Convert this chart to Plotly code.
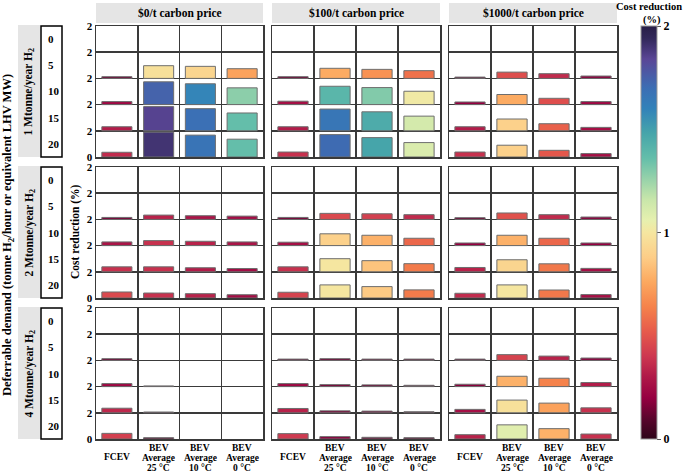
import plotly.graph_objects as go

# ---------------- data ----------------
carbon_prices = ["$0/t carbon price", "$100/t carbon price", "$1000/t carbon price"]
h2_demands = ["1 Mtonne/year H<sub>2</sub>", "2 Mtonne/year H<sub>2</sub>", "4 Mtonne/year H<sub>2</sub>"]
deferrable_levels = ["0", "5", "10", "15", "20"]
vehicles = ["FCEV", "BEV Average 25 °C", "BEV Average 10 °C", "BEV Average 0 °C"]
vehicle_label_lines = [["FCEV"], ["BEV", "Average", "25 °C"], ["BEV", "Average", "10 °C"], ["BEV", "Average", "0 °C"]]
y_tick_vals = [0, 2, 4, 6, 8, 10]
y_tick_text = ["0", "2", "2", "2", "2", "2"]
cbar_ticks = [0, 1, 2]

# cost reduction (%) : rows = deferrable demand (0,5,10,15,20), cols = vehicles
cr_1mt_0 = [[0, 0, 0, 0], [0.13, 0.97, 0.92, 0.74], [0.23, 1.74, 1.59, 1.28], [0.31, 1.85, 1.69, 1.36], [0.36, 1.90, 1.67, 1.36]]
cr_1mt_100 = [[0, 0, 0, 0], [0.13, 0.77, 0.69, 0.59], [0.26, 1.40, 1.30, 1.02], [0.31, 1.66, 1.45, 1.12], [0.38, 1.71, 1.48, 1.10]]
cr_1mt_1000 = [[0, 0, 0, 0], [0.10, 0.48, 0.36, 0.18], [0.20, 0.77, 0.48, 0.23], [0.31, 0.90, 0.54, 0.26], [0.38, 0.90, 0.51, 0.26]]
cr_2mt_0 = [[0, 0, 0, 0], [0.15, 0.33, 0.28, 0.25], [0.28, 0.38, 0.33, 0.28], [0.38, 0.38, 0.31, 0.25], [0.46, 0.38, 0.33, 0.25]]
cr_2mt_100 = [[0, 0, 0, 0], [0.15, 0.46, 0.43, 0.36], [0.26, 0.90, 0.79, 0.56], [0.38, 1.00, 0.85, 0.62], [0.44, 1.00, 0.87, 0.62]]
cr_2mt_1000 = [[0, 0, 0, 0], [0.13, 0.49, 0.36, 0.18], [0.20, 0.79, 0.56, 0.20], [0.33, 0.92, 0.61, 0.26], [0.36, 1.00, 0.61, 0.26]]
cr_4mt_0 = [[0, 0, 0, 0], [0.13, 0, 0, 0], [0.23, 0.05, 0, 0], [0.35, 0.06, 0, 0], [0.43, 0.10, 0, 0]]
cr_4mt_100 = [[0, 0, 0, 0], [0.10, 0.13, 0.10, 0.10], [0.23, 0.15, 0.13, 0.10], [0.33, 0.15, 0.13, 0.08], [0.41, 0.18, 0.13, 0.10]]
cr_4mt_1000 = [[0, 0, 0, 0], [0.10, 0.44, 0.33, 0.18], [0.18, 0.79, 0.64, 0.31], [0.26, 0.97, 0.74, 0.38], [0.33, 1.08, 0.79, 0.38]]

panels = [[cr_1mt_0, cr_1mt_100, cr_1mt_1000],
          [cr_2mt_0, cr_2mt_100, cr_2mt_1000],
          [cr_4mt_0, cr_4mt_100, cr_4mt_1000]]

# ---------------- style ----------------
W, H = 685, 472
FONT = "Liberation Serif"
DARK = "#3a3a3a"
colorscale = [
    [0.00, "rgb(45,5,25)"], [0.05, "rgb(90,5,45)"], [0.10, "rgb(150,0,65)"],
    [0.15, "rgb(175,25,72)"], [0.20, "rgb(205,55,80)"], [0.26, "rgb(230,90,75)"],
    [0.32, "rgb(245,130,75)"], [0.38, "rgb(252,168,95)"], [0.44, "rgb(253,205,135)"],
    [0.50, "rgb(245,230,160)"], [0.53, "rgb(230,240,175)"], [0.58, "rgb(200,230,170)"],
    [0.63, "rgb(150,210,170)"], [0.68, "rgb(100,190,170)"], [0.74, "rgb(70,165,170)"],
    [0.80, "rgb(50,130,185)"], [0.85, "rgb(60,110,180)"], [0.92, "rgb(90,70,150)"],
    [0.97, "rgb(50,40,90)"], [1.00, "rgb(40,30,70)"],
]

col_px = [(96, 263), (272, 440), (449, 617)]
row_px = [(26, 157), (167, 298), (308, 439)]


def px(x):
    return x / W


def py(y):
    return 1 - y / H


def bold(s):
    return dict(family=FONT, size=s, color="black", weight="bold")


fig = go.Figure()
layout = {}
annotations = []
for i in range(3):
    for j in range(3):
        n = i * 3 + j + 1
        xs, ys, bases, vals = [], [], [], []
        data = panels[i][j]
        for k, rowvals in enumerate(data):
            for v_idx, v in enumerate(rowvals):
                if v > 0:
                    xs.append(vehicles[v_idx])
                    ys.append(v)
                    bases.append((len(deferrable_levels) - 1 - k) * 2)
                    vals.append(v)
        first = (n == 1)
        xname = "x" if n == 1 else f"x{n}"
        fig.add_trace(go.Bar(
            x=xs, y=ys, base=bases, width=0.72,
            marker=dict(color=vals, colorscale=colorscale, cmin=0, cmax=2,
                        line=dict(color="#6e6e6e", width=1),
                        showscale=first,
                        colorbar=dict(
                            x=px(641), xanchor="left", xpad=0, ypad=0,
                            y=py(232.5), yanchor="middle",
                            len=413, lenmode="pixels", thickness=16, thicknessmode="pixels",
                            tickvals=cbar_ticks, ticks="outside", ticklen=4, tickcolor="#555",
                            tickfont=bold(12),
                            outlinewidth=1, outlinecolor="#999") if first else None),
            xaxis=xname, yaxis="y" if n == 1 else f"y{n}",
            showlegend=False, hoverinfo="x+y",
        ))
        layout[f"xaxis{'' if n == 1 else n}"] = dict(
            domain=[px(col_px[j][0]), px(col_px[j][1])], anchor="y" if n == 1 else f"y{n}",
            type="category", categoryorder="array", categoryarray=vehicles,
            tickson="boundaries", showgrid=True, gridcolor=DARK, gridwidth=1.5,
            showline=True, mirror=True, linecolor=DARK, linewidth=1.5, ticks="",
            range=[-0.5, 3.5], showticklabels=False,
        )
        layout[f"yaxis{'' if n == 1 else n}"] = dict(
            domain=[py(row_px[i][1]), py(row_px[i][0])], anchor="x" if n == 1 else f"x{n}",
            range=[0, 10], tickmode="array", tickvals=y_tick_vals, ticktext=y_tick_text,
            showgrid=True, gridcolor=DARK, gridwidth=1.5, zeroline=False,
            showline=True, mirror=True, linecolor=DARK, linewidth=1.5, ticks="",
            showticklabels=(j == 0),
            tickfont=bold(11),
        )
        # category labels under the bottom row of panels
        if i == 2:
            for v_idx, lines in enumerate(vehicle_label_lines):
                if len(lines) == 1:
                    ys_lab = [457]
                else:
                    ys_lab = [448, 458, 468]
                for line, yl in zip(lines, ys_lab):
                    annotations.append(dict(text=line, x=vehicles[v_idx], xref=xname,
                                            y=py(yl), yref="paper", showarrow=False,
                                            font=bold(9.5), xanchor="center", yanchor="middle"))

shapes = []

for j, title in enumerate(carbon_prices):
    x0, x1 = col_px[j]
    shapes.append(dict(type="rect", xref="paper", yref="paper", x0=px(x0), x1=px(x1),
                       y0=py(23), y1=py(3), fillcolor="#e5e5e5", line=dict(width=0), layer="below"))
    annotations.append(dict(text=title, x=px((x0 + x1) / 2), y=py(13), xref="paper", yref="paper",
                            showarrow=False, font=bold(11.5), xanchor="center", yanchor="middle"))

for i, lab in enumerate(h2_demands):
    y0, y1 = row_px[i]
    shapes.append(dict(type="rect", xref="paper", yref="paper", x0=px(18), x1=px(40),
                       y0=py(y1), y1=py(y0 - 1), fillcolor="#e5e5e5", line=dict(width=0), layer="below"))
    shapes.append(dict(type="rect", xref="paper", yref="paper", x0=px(41), x1=px(62),
                       y0=py(y1), y1=py(y0), fillcolor="white", line=dict(color="black", width=1.5)))
    annotations.append(dict(text=lab, x=px(29), y=py((y0 + y1) / 2), xref="paper", yref="paper",
                            showarrow=False, textangle=-90, font=bold(11.5),
                            xanchor="center", yanchor="middle"))
    cell = (y1 - y0) / len(deferrable_levels)
    for k, d in enumerate(deferrable_levels):
        annotations.append(dict(text=d, x=px(46), y=py(y0 + cell * (k + 0.5)), xref="paper", yref="paper",
                                showarrow=False, font=bold(11), xanchor="left", yanchor="middle"))

annotations.append(dict(text="Cost reduction (%)", x=px(75), y=py(232), xref="paper", yref="paper",
                        showarrow=False, textangle=-90, font=bold(11.5), xanchor="center", yanchor="middle"))
annotations.append(dict(text="Deferrable demand (tonne H<sub>2</sub>/hour or equivalent LHV MW)",
                        x=px(8), y=py(235), xref="paper", yref="paper",
                        showarrow=False, textangle=-90, font=bold(12.5), xanchor="center", yanchor="middle"))
annotations.append(dict(text="Cost reduction", x=px(684), y=py(7), xref="paper", yref="paper",
                        showarrow=False, font=bold(10.5), xanchor="right", yanchor="middle"))
annotations.append(dict(text="(%)", x=px(652), y=py(19.5), xref="paper", yref="paper",
                        showarrow=False, font=bold(10.5), xanchor="center", yanchor="middle"))

fig.update_layout(
    width=W, height=H, margin=dict(l=0, r=0, t=0, b=0, autoexpand=False),
    paper_bgcolor="white", plot_bgcolor="white",
    barmode="overlay", shapes=shapes, annotations=annotations,
    font=dict(family=FONT, color="black"), hovermode=False,
    **layout,
)

fig.write_html("out.html", config={"displayModeBar": False, "staticPlot": True},
               post_script="document.body.style.margin='0px';")
